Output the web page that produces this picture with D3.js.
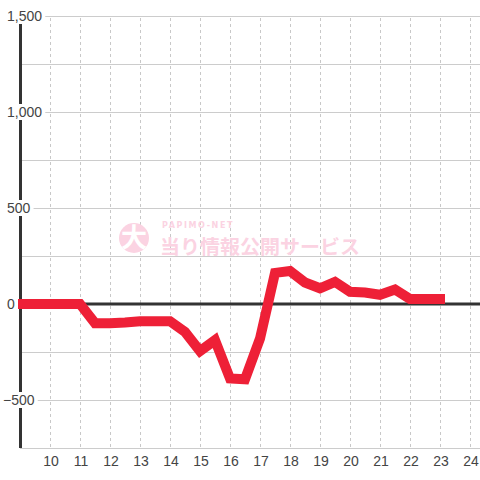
<!DOCTYPE html>
<html><head><meta charset="utf-8">
<script src="https://cdn.jsdelivr.net/npm/d3@7"></script>
<style>html,body{margin:0;padding:0;background:#fff;}svg{display:block;}</style>
</head><body>
<svg id="c" width="480" height="480"></svg>
<script>
const hours = [9,9.5,10,10.5,11,11.5,12,12.5,13,13.5,14,14.5,15,15.5,16,16.5,17,17.5,18,18.5,19,19.5,20,20.5,21,21.5,22,22.5,23];
const values = [0,0,0,0,0,-100,-100,-96,-90,-90,-90,-145,-245,-188,-388,-392,-180,162,172,112,82,115,64,60,48,75,26,26,26];
const xTicks = [10,11,12,13,14,15,16,17,18,19,20,21,22,23,24];
const yLabelTicks = [1500,1000,500,0,-500];
const yGridTicks = [1500,1250,1000,750,500,250,0,-250,-500,-750];

const svg = d3.select("#c");
const x = d3.scaleLinear().domain([9,24]).range([20,470]);
const y = d3.scaleLinear().domain([-750,1500]).range([448,16]);
const fmt = d3.format(",");

// horizontal grid
svg.append("g").selectAll("line").data(yGridTicks).join("line")
  .attr("x1",20).attr("x2",480)
  .attr("y1",d=>y(d)+0.5).attr("y2",d=>y(d)+0.5)
  .attr("stroke","#cccccc").attr("stroke-width",1);
// vertical dashed grid
svg.append("g").selectAll("line").data(xTicks).join("line")
  .attr("x1",d=>x(d)+0.5).attr("x2",d=>x(d)+0.5)
  .attr("y1",18).attr("y2",448)
  .attr("stroke","#c8c8c8").attr("stroke-width",1).attr("stroke-dasharray","3,3");

// watermark
const wm = svg.append("g");
wm.append("circle").attr("cx",134).attr("cy",238).attr("r",15).attr("fill","#fbd3e2");
wm.append("text").attr("x",134).attr("y",247).attr("text-anchor","middle")
  .attr("font-family","Noto Sans CJK JP").attr("font-weight","bold").attr("font-size",26)
  .attr("fill","#ffffff").text("大");
wm.append("text").attr("x",162).attr("y",228)
  .attr("font-family","DejaVu Sans").attr("font-weight","bold").attr("font-size",8)
  .attr("letter-spacing",1.6).attr("fill","#fbd3e2").text("PAPIMO-NET");
wm.append("text").attr("x",160).attr("y",254)
  .attr("font-family","Noto Sans CJK JP").attr("font-weight","bold").attr("font-size",19.5)
  .attr("textLength",200).attr("lengthAdjust","spacingAndGlyphs").attr("fill","#fbd3e2").text("当り情報公開サービス");

// y axis line
svg.append("line").attr("x1",20.5).attr("x2",20.5).attr("y1",24).attr("y2",448)
  .attr("stroke","#333").attr("stroke-width",3);
// zero line
svg.append("line").attr("x1",20).attr("x2",480).attr("y1",y(0)).attr("y2",y(0))
  .attr("stroke","#333").attr("stroke-width",3);

// data line
const line = d3.line().x((d,i)=>x(hours[i])).y(d=>y(d));
svg.append("path").datum(values).attr("d",line)
  .attr("fill","none").attr("stroke","#ee2037").attr("stroke-width",10)
  .attr("stroke-linejoin","miter").attr("stroke-linecap","square");

// y labels with white background
const yl = svg.append("g").selectAll("g").data(yLabelTicks).join("g");
yl.append("text")
  .attr("x",d=>d<0?3:7).attr("y",d=>y(d)+5)
  .attr("font-family","Liberation Sans, Arial, sans-serif").attr("font-size",14)
  .attr("fill","#444").text(d=>fmt(d))
  .each(function(){
    const b=this.getBBox();
    d3.select(this.parentNode).insert("rect","text")
      .attr("x",b.x-1).attr("y",b.y).attr("width",b.width+4).attr("height",b.height)
      .attr("fill","#ffffff");
  });

// x labels
svg.append("g").selectAll("text").data(xTicks).join("text")
  .attr("x",d=>x(d)+1).attr("y",466).attr("text-anchor","middle")
  .attr("font-family","Liberation Sans, Arial, sans-serif").attr("font-size",14)
  .attr("fill","#444").text(d=>d);
</script>
</body></html>
